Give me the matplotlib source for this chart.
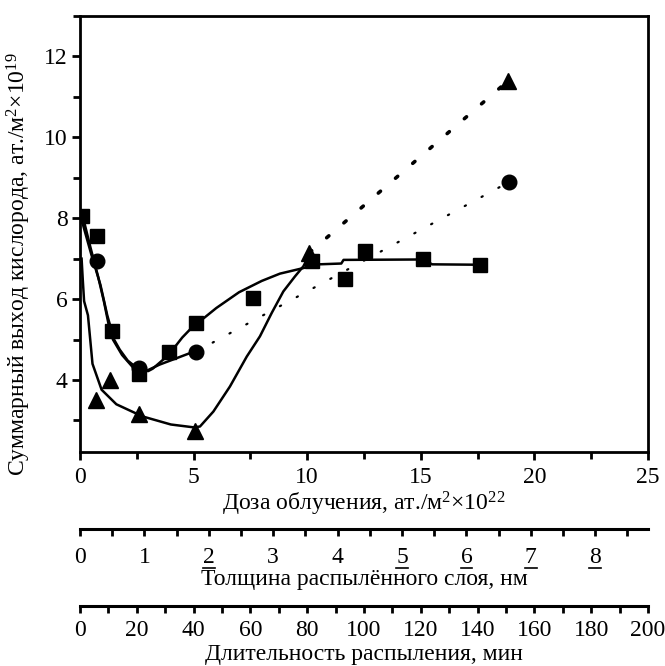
import matplotlib
matplotlib.use("Agg")
import matplotlib.pyplot as plt
import matplotlib.transforms as mtransforms
from matplotlib.ticker import MultipleLocator

plt.rcParams['font.family'] = ['Liberation Serif', 'DejaVu Serif']
plt.rcParams['mathtext.fontset'] = 'custom'
plt.rcParams['mathtext.rm'] = 'Liberation Serif'
plt.rcParams['mathtext.it'] = 'Liberation Serif:italic'

# markers (dose, oxygen yield)
sq_x = [0.1, 0.75, 1.4, 2.6, 3.9, 5.1, 7.6, 10.2, 11.65, 12.55, 15.1, 17.6]
sq_y = [8.05, 7.55, 5.2, 4.15, 4.7, 5.4, 6.03, 6.95, 6.5, 7.2, 7.0, 6.85]
circ_x = [0.75, 2.6, 5.1, 18.9]
circ_y = [6.95, 4.3, 4.7, 8.9]
tri_x = [0.7, 1.3, 2.6, 5.05, 10.1, 18.85]
tri_y = [3.5, 4.0, 3.15, 2.75, 7.15, 11.4]

# hand drawn solid curves
sq_cx = [0.1, 0.45, 0.8, 1.05, 1.25, 1.45, 1.85, 2.35, 3.0, 3.2, 3.9, 4.5, 5.1,
         5.45, 6.0, 7.0, 8.0, 8.8, 9.7, 10.5, 11.5, 11.6, 15.1, 15.5, 17.6]
sq_cy = [8.1, 7.3, 6.55, 5.95, 5.4, 5.0, 4.62, 4.3, 4.22, 4.28, 4.62, 5.05, 5.4,
         5.53, 5.78, 6.17, 6.45, 6.63, 6.75, 6.86, 6.88, 6.97, 6.98, 6.86, 6.85]
circ_cx = [0.1, 0.5, 0.9, 1.2, 1.5, 1.75, 2.1, 2.5, 2.9, 3.5, 4.3, 5.1]
circ_cy = [7.9, 7.1, 6.35, 5.6, 5.0, 4.75, 4.48, 4.3, 4.22, 4.38, 4.55, 4.72]
tri_cx = [0.07, 0.12, 0.18, 0.35, 0.45, 0.55, 0.95, 1.6, 2.75, 4.0, 5.0, 5.28, 5.87,
          6.6, 7.34, 7.92, 8.44, 8.95, 9.46, 9.83, 10.1]
tri_cy = [7.0, 6.5, 5.95, 5.6, 5.0, 4.4, 3.76, 3.4, 3.1, 2.9, 2.83, 2.85, 3.22,
          3.84, 4.58, 5.08, 5.66, 6.19, 6.56, 6.81, 7.1]

thick_ticks = [0, 1, 2, 3, 4, 5, 6, 7, 8]
thick_underlined = [2, 5, 6, 7, 8]
time_ticks = [0, 20, 40, 60, 80, 100, 120, 140, 160, 180, 200]

W, H = 665, 666
FS = 17
fig = plt.figure(figsize=(W / 100, H / 100), dpi=100)

left, right = 80 / W, 648 / W
ax = fig.add_axes([left, 1 - 452 / H, right - left, (452 - 16) / H])

ax.plot(sq_cx, sq_cy, color='black', lw=1.8)
ax.plot(circ_cx, circ_cy, color='black', lw=1.8)
ax.plot(tri_cx, tri_cy, color='black', lw=1.8)
ax.plot(tri_x[-2:], tri_y[-2:], color='black', lw=2.6, linestyle=(0, (0.8, 5.5)),
        dash_capstyle='round')
ax.plot(circ_x[-2:], circ_y[-2:], color='black', lw=1.6, linestyle=(0, (0.6, 8)),
        dash_capstyle='round')

ax.plot(sq_x, sq_y, 's', color='black', ms=10.5, zorder=5)
ax.plot(circ_x, circ_y, 'o', color='black', ms=10.5, zorder=5)
ax.plot(tri_x, tri_y, '^', color='black', ms=11.5, zorder=5)

ax.set_xlim(0, 25)
ax.set_ylim(2.22, 13.0)
ax.xaxis.set_major_locator(MultipleLocator(5))
ax.xaxis.set_minor_locator(MultipleLocator(2.5))
ax.yaxis.set_major_locator(MultipleLocator(2))
ax.yaxis.set_minor_locator(MultipleLocator(1))
ax.tick_params(which='both', direction='out', width=2, labelsize=FS)
ax.tick_params(which='major', length=6)
ax.tick_params(which='minor', length=5)
ax.tick_params(axis='x', pad=5)
ax.tick_params(axis='y', pad=3)
for s in ax.spines.values():
    s.set_linewidth(2)

ax.set_xlabel('Доза облучения, ат./м$^2$×10$^{22}$', fontsize=FS, labelpad=1)
ax.set_ylabel('Суммарный выход кислорода, ат./м$^2$×10$^{19}$', fontsize=FS)
ax.yaxis.set_label_coords(-0.082, 0.43)


def scale_axis(y_px, lim, major, minor, title, pad, labelpad):
    a = fig.add_axes([left, 1 - y_px / H, right - left, 1e-5])
    a.patch.set_visible(False)
    for side in ('top', 'left', 'right'):
        a.spines[side].set_visible(False)
    a.spines['bottom'].set_linewidth(2.2)
    a.set_yticks([])
    a.set_xlim(*lim)
    a.set_xticks(major)
    a.xaxis.set_minor_locator(MultipleLocator(minor))
    a.tick_params(which='both', direction='out', width=2, length=5, labelsize=FS, pad=pad)
    a.set_xlabel(title, fontsize=FS, labelpad=labelpad)
    return a


a2 = scale_axis(529, (0, 8.82), thick_ticks, 0.5,
                'Толщина распылённого слоя, нм', 8, 1)
scale_axis(606, (0, 200), time_ticks, 10,
           'Длительность распыления, мин', 5, 2)

# the underlined digits on the thickness scale
trans = mtransforms.blended_transform_factory(a2.transData, fig.transFigure)
for t in thick_underlined:
    a2.plot([t - 0.09, t + 0.09], [1 - 568 / H] * 2, color='black', lw=1.2,
            transform=trans, clip_on=False)

fig.savefig('out.png', dpi=100)
